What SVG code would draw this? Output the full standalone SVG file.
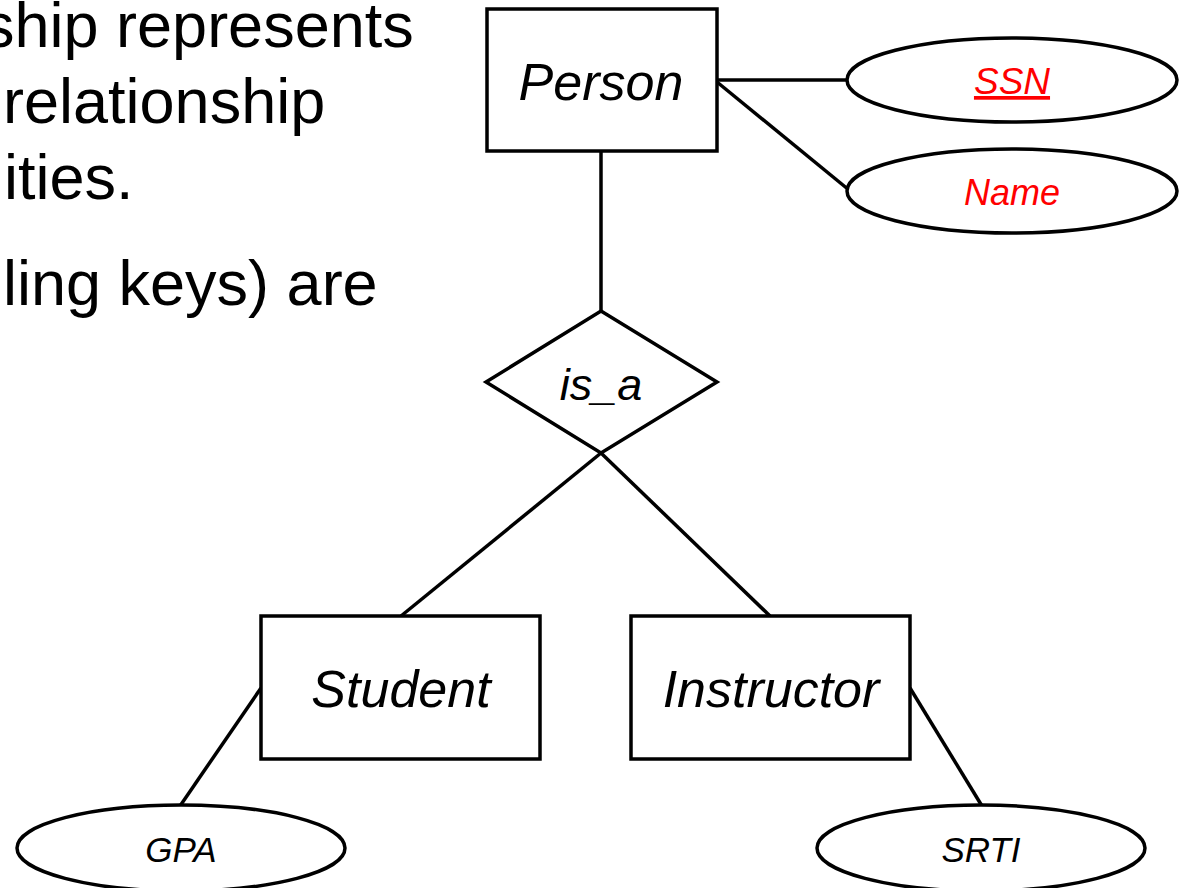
<svg xmlns="http://www.w3.org/2000/svg" width="1186" height="888" viewBox="0 0 1186 888">
<style>
.body{font-family:"Liberation Sans",Arial,sans-serif;font-size:63px;fill:#000}
.shape{fill:#fff;stroke:#000;stroke-width:3.5}
.conn line{stroke:#000;stroke-width:3.5}
.lbl{font-family:"Liberation Sans",Arial,sans-serif;font-style:italic;text-anchor:middle;fill:#000}
.red{fill:#ff0000}
</style>
<rect width="1186" height="888" fill="#fff"/>
<g id="slide-text" class="body">
<text x="-17" y="47">ship represents</text>
<text x="3" y="123">relationship</text>
<text x="4" y="199">ities.</text>
<text x="3" y="305">ling keys) are</text>
</g>
<g id="connectors" class="conn">
<line x1="601" y1="151" x2="601" y2="311"/>
<line x1="717" y1="80" x2="848" y2="80"/>
<line x1="717" y1="82" x2="849" y2="190"/>
<line x1="601" y1="453" x2="401" y2="616"/>
<line x1="601" y1="453" x2="770" y2="616"/>
<line x1="261" y1="688" x2="180" y2="806"/>
<line x1="910" y1="688" x2="982" y2="806"/>
</g>
<g id="person">
<rect class="shape" x="487" y="9" width="230" height="142"/>
<text class="lbl" x="601" y="100" font-size="52">Person</text>
</g>
<g id="ssn">
<ellipse class="shape" cx="1012" cy="80" rx="165" ry="42"/>
<text class="lbl red" x="1012" y="94" font-size="37" text-decoration="underline">SSN</text>
</g>
<g id="name">
<ellipse class="shape" cx="1012" cy="191" rx="165" ry="42"/>
<text class="lbl red" x="1012" y="205" font-size="36">Name</text>
</g>
<g id="is_a">
<polygon class="shape" points="601,311 717,382 601,453 486,382"/>
<text class="lbl" x="601" y="400" font-size="45">is_a</text>
</g>
<g id="student">
<rect class="shape" x="261" y="616" width="279" height="143"/>
<text class="lbl" x="401" y="707" font-size="52">Student</text>
</g>
<g id="instructor">
<rect class="shape" x="631" y="616" width="279" height="143"/>
<text class="lbl" x="771" y="707" font-size="52">Instructor</text>
</g>
<g id="gpa">
<ellipse class="shape" cx="181" cy="848" rx="164" ry="43"/>
<text class="lbl" x="181" y="862" font-size="35">GPA</text>
</g>
<g id="srti">
<ellipse class="shape" cx="981" cy="848" rx="164" ry="43"/>
<text class="lbl" x="981" y="862" font-size="35">SRTI</text>
</g>
</svg>
